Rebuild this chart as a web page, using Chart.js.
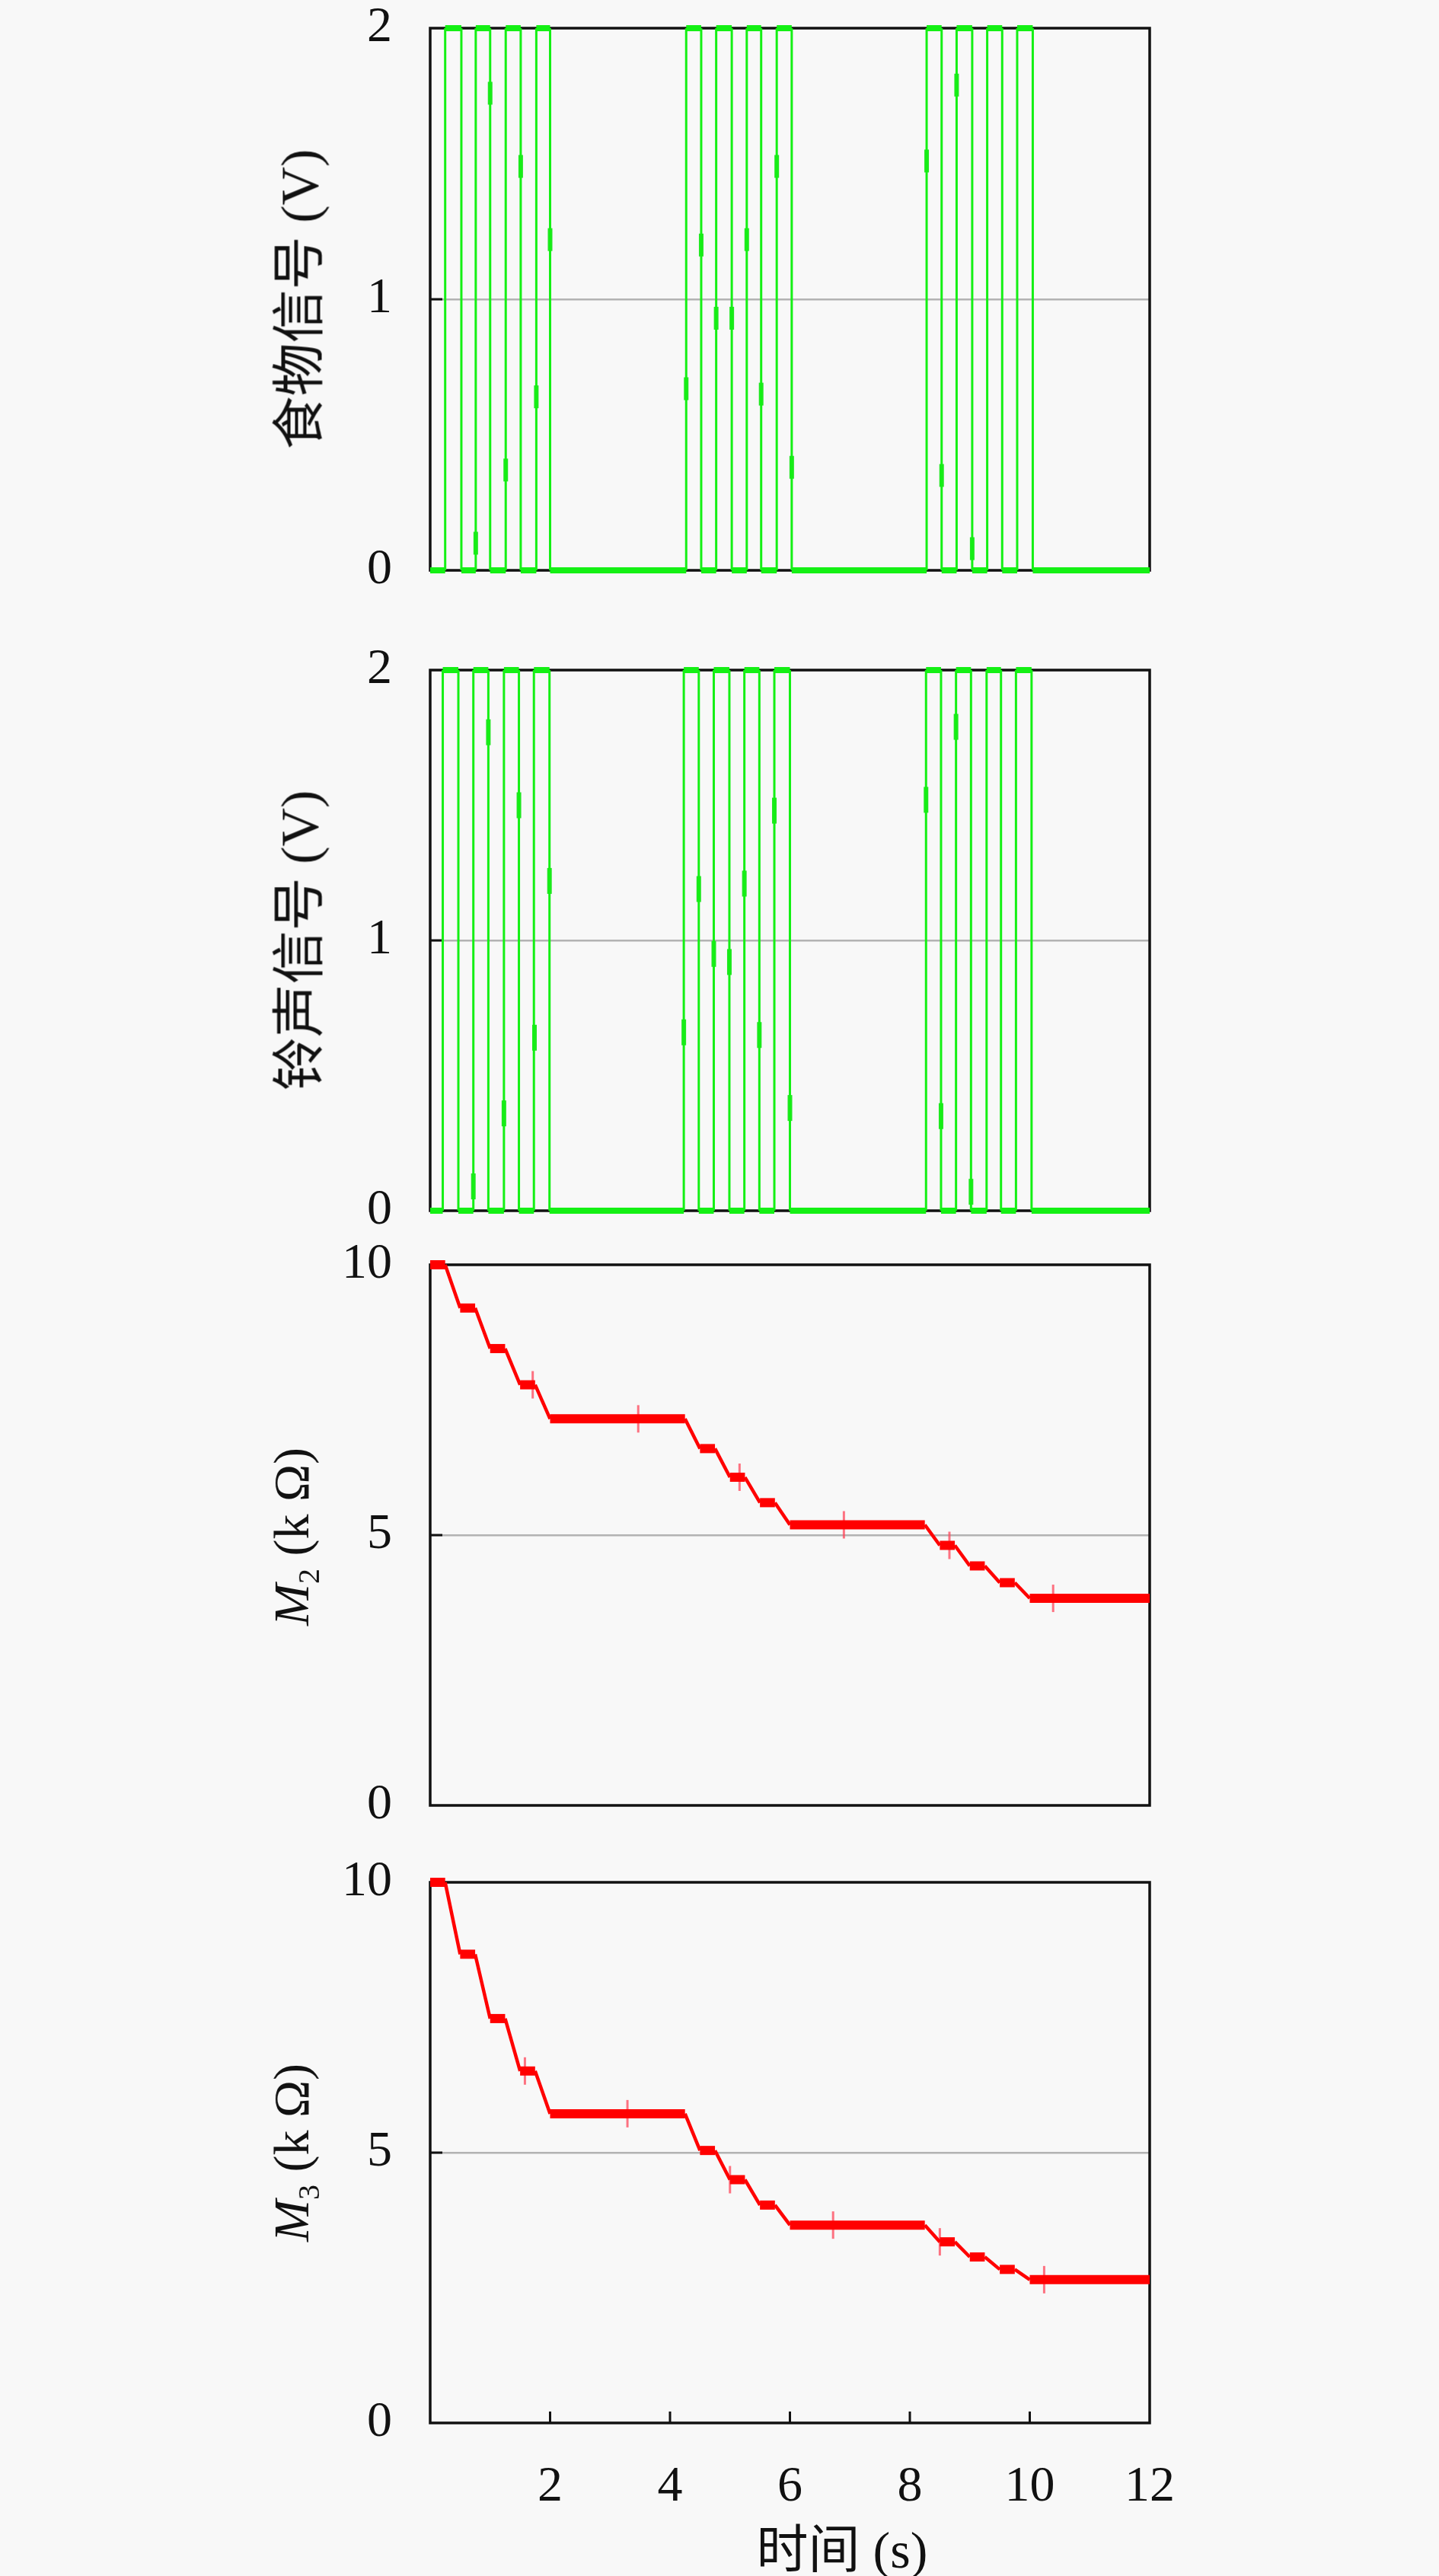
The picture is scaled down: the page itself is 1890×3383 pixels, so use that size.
<!DOCTYPE html>
<html>
<head>
<meta charset="utf-8">
<script src="https://cdn.jsdelivr.net/npm/chart.js@4.4.0/dist/chart.umd.min.js"></script>
<style>
  html, body { margin: 0; padding: 0; background: #f8f8f8; }
  body { width: 1890px; height: 3383px; position: relative; overflow: hidden; }
  canvas { position: absolute; left: 0; }
  .ytitle {
    position: absolute; left: 387px;
    transform: translate(-50%, -50%) rotate(-90deg);
    white-space: nowrap; color: #111;
    font-family: "Liberation Serif", "Noto Sans CJK SC", serif; font-size: 70px;
  }
  .ytitle.m { font-size: 66px; }
  .ytitle sub { font-size: 40px; }
  .xtitle {
    position: absolute; left: 1106px; top: 3342px;
    transform: translate(-50%, -50%);
    white-space: nowrap; color: #111;
    font-family: "Liberation Serif", "Noto Sans CJK SC", serif; font-size: 68px;
  }
</style>
</head>
<body>
<canvas id="foodChart"></canvas>
<canvas id="bellChart"></canvas>
<canvas id="m2Chart"></canvas>
<canvas id="m3Chart"></canvas>
<div class="ytitle" style="top:393px">食物信号 (V)</div>
<div class="ytitle" style="top:1235px">铃声信号 (V)</div>
<div class="ytitle m" style="top:2018px"><i>M</i><sub>2</sub> (k Ω)</div>
<div class="ytitle m" style="top:2827px"><i>M</i><sub>3</sub> (k Ω)</div>
<div class="xtitle">时间 (s)</div>
<script>
// Pulse edges (s) of the food and bell signals
const foodRise = [0.25, 0.76, 1.26, 1.77, 4.27, 4.77, 5.28, 5.78, 8.28, 8.78, 9.29, 9.79];
const foodFall = [0.52, 1.0, 1.51, 2.0, 4.52, 5.03, 5.52, 6.03, 8.53, 9.04, 9.54, 10.05];
const bellRise = [0.21, 0.72, 1.23, 1.73, 4.23, 4.73, 5.24, 5.74, 8.27, 8.77, 9.28, 9.77];
const bellFall = [0.47, 0.97, 1.48, 1.99, 4.48, 4.99, 5.49, 6.0, 8.52, 9.02, 9.52, 10.03];
const signalLow = 0;
const signalHigh = 2;

// Small markers sitting on the signal edges
const foodMarkT = [0.76, 1.0, 1.26, 1.51, 1.77, 2.0, 4.27, 4.52, 4.77, 5.03, 5.28, 5.52, 5.78, 6.03, 8.28, 8.53, 8.78, 9.04];
const foodMarkV = [0.10, 1.76, 0.37, 1.49, 0.64, 1.22, 0.67, 1.20, 0.93, 0.93, 1.22, 0.65, 1.49, 0.38, 1.51, 0.35, 1.79, 0.08];
const bellMarkT = [0.72, 0.97, 1.23, 1.48, 1.74, 1.99, 4.23, 4.48, 4.73, 4.99, 5.24, 5.49, 5.74, 6.0, 8.27, 8.52, 8.77, 9.02];
const bellMarkV = [0.09, 1.77, 0.36, 1.50, 0.64, 1.22, 0.66, 1.19, 0.95, 0.92, 1.21, 0.65, 1.48, 0.38, 1.52, 0.35, 1.79, 0.07];

// Memristor values (kOhm)
const mTime = [0, 0.25, 0.5, 0.75, 1.0, 1.25, 1.5, 1.75, 2.0, 4.25, 4.5, 4.75, 5.0, 5.25, 5.5, 5.75, 6.0, 8.25, 8.5, 8.75, 9.0, 9.25, 9.5, 9.75, 10.0, 12];
const m2Value = [10, 10, 9.2, 9.2, 8.45, 8.45, 7.78, 7.78, 7.15, 7.15, 6.6, 6.6, 6.07, 6.07, 5.6, 5.6, 5.19, 5.19, 4.81, 4.81, 4.43, 4.43, 4.12, 4.12, 3.83, 3.83];
const m3Value = [10, 10, 8.67, 8.67, 7.48, 7.48, 6.51, 6.51, 5.72, 5.72, 5.04, 5.04, 4.5, 4.5, 4.03, 4.03, 3.66, 3.66, 3.35, 3.35, 3.07, 3.07, 2.84, 2.84, 2.65, 2.65];
const m2MarkT = [1.71, 3.47, 5.16, 6.9, 8.66, 10.39];
const m2MarkV = [7.78, 7.15, 6.07, 5.19, 4.81, 3.83];
const m3MarkT = [1.58, 3.29, 5.0, 6.72, 8.5, 10.24];
const m3MarkV = [6.51, 5.72, 4.5, 3.66, 3.35, 2.65];

// Axis ticks
const xTicks = [0, 2, 4, 6, 8, 10, 12];
const signalTicks = [0, 1, 2];
const mTicks = [0, 5, 10];

const GREEN = "#14f014";
const RED = "#ff0000";
const FONT = "'Liberation Serif', 'DejaVu Serif', serif";

// Plot-area geometry in page pixels
const PLOT_LEFT = 565;
const PLOT_RIGHT = 1510;
const PAGE_W = 1890;
const PAGE_H = 3383;

function pulseTrain(rise, fall) {
  const pts = [{ x: 0, y: signalLow }];
  rise.forEach((r, i) => {
    pts.push({ x: r, y: signalLow }, { x: r, y: signalHigh });
    pts.push({ x: fall[i], y: signalHigh }, { x: fall[i], y: signalLow });
  });
  pts.push({ x: 12, y: signalLow });
  return pts;
}

function pairs(xs, ys) {
  return xs.map((x, i) => ({ x: x, y: ys[i] }));
}

// Black box around plot + short inward tick marks
const framePlugin = {
  id: "frame",
  beforeDatasetsDraw(chart, args, opts) {
    const { ctx, chartArea: a } = chart;
    ctx.save();
    ctx.strokeStyle = "#111";
    ctx.lineWidth = 3.5;
    ctx.strokeRect(a.left, a.top, a.right - a.left, a.bottom - a.top);
    ctx.lineWidth = 3;
    const ys = chart.scales.y;
    ys.ticks.forEach((t) => {
      if (t.value === ys.min || t.value === ys.max) return;
      const py = ys.getPixelForValue(t.value);
      ctx.beginPath();
      ctx.moveTo(a.left, py);
      ctx.lineTo(a.left + 16, py);
      ctx.stroke();
    });
    if (opts.xTicks) {
      const xs = chart.scales.x;
      xs.ticks.forEach((t) => {
        if (t.value === xs.min || t.value === xs.max) return;
        const px = xs.getPixelForValue(t.value);
        ctx.beginPath();
        ctx.moveTo(px, a.bottom);
        ctx.lineTo(px, a.bottom - 15);
        ctx.stroke();
      });
    }
    ctx.restore();
  },
};

function makePanel(id, top, bottom, datasets, yTicks, showX) {
  // room for the half-height tick labels + tick padding above and below
  const padTop = 90;
  const extra = showX ? PAGE_H - bottom : 90;
  const canvas = document.getElementById(id);
  canvas.width = PAGE_W;
  canvas.height = padTop + (bottom - top) + extra;
  canvas.style.top = top - padTop + "px";
  const yMid = yTicks[1];

  return new Chart(canvas, {
    type: "line",
    data: { datasets: datasets },
    options: {
      responsive: false,
      animation: false,
      devicePixelRatio: 1,
      layout: { padding: { top: padTop, right: PAGE_W - PLOT_RIGHT, left: 0, bottom: 0 } },
      plugins: {
        legend: { display: false },
        tooltip: { enabled: false },
        frame: { xTicks: showX },
      },
      scales: {
        x: {
          type: "linear",
          min: xTicks[0],
          max: xTicks[xTicks.length - 1],
          afterBuildTicks: (scale) => {
            scale.ticks = xTicks.map((v) => ({ value: v }));
          },
          border: { display: false },
          grid: { display: false, drawTicks: false },
          ticks: {
            display: showX,
            padding: 52,
            font: { size: 66, family: FONT, lineHeight: 1 },
            color: "#111",
            callback: (v) => (v === 0 ? "" : v),
          },
          afterFit: (scale) => {
            scale.height = extra;
          },
        },
        y: {
          min: yTicks[0],
          max: yTicks[yTicks.length - 1],
          afterBuildTicks: (scale) => {
            scale.ticks = yTicks.map((v) => ({ value: v }));
          },
          border: { display: false },
          grid: {
            drawTicks: false,
            lineWidth: 2.5,
            color: (c) => (c.tick && c.tick.value === yMid ? "rgba(150,150,150,0.7)" : "rgba(0,0,0,0)"),
          },
          ticks: {
            padding: 50,
            font: { size: 66, family: FONT, lineHeight: 1 },
            color: "#111",
          },
          afterFit: (scale) => {
            scale.width = PLOT_LEFT;
          },
        },
      },
    },
    plugins: [framePlugin],
  });
}

function signalSet(rise, fall) {
  return {
    data: pulseTrain(rise, fall),
    borderColor: GREEN,
    borderWidth: 3,
    pointRadius: 0,
    tension: 0,
    clip: 10,
    segment: {
      borderWidth: (c) => (c.p0.parsed.y === c.p1.parsed.y ? 8 : 3),
    },
  };
}

function memristorSet(values) {
  return {
    data: pairs(mTime, values),
    borderColor: RED,
    pointRadius: 0,
    tension: 0,
    clip: 10,
    segment: {
      borderWidth: (c) => (c.p0.parsed.y === c.p1.parsed.y ? 12 : 4.5),
    },
  };
}

function markSet(ts, vs, color, r, w) {
  return {
    data: pairs(ts, vs),
    showLine: false,
    pointStyle: "line",
    rotation: 90,
    pointRadius: r,
    pointBorderWidth: w,
    pointBorderColor: color,
    borderColor: color,
  };
}

makePanel("foodChart", 37, 749, [
  signalSet(foodRise, foodFall),
  markSet(foodMarkT, foodMarkV, "#22e622", 15, 6),
], signalTicks, false);

makePanel("bellChart", 880, 1590, [
  signalSet(bellRise, bellFall),
  markSet(bellMarkT, bellMarkV, "#22e622", 17, 6),
], signalTicks, false);

makePanel("m2Chart", 1661, 2371, [
  memristorSet(m2Value),
  markSet(m2MarkT, m2MarkV, "rgba(255,70,90,0.75)", 18, 3),
], mTicks, false);

makePanel("m3Chart", 2472, 3182, [
  memristorSet(m3Value),
  markSet(m3MarkT, m3MarkV, "rgba(255,70,90,0.75)", 18, 3),
], mTicks, true);
</script>
</body>
</html>
